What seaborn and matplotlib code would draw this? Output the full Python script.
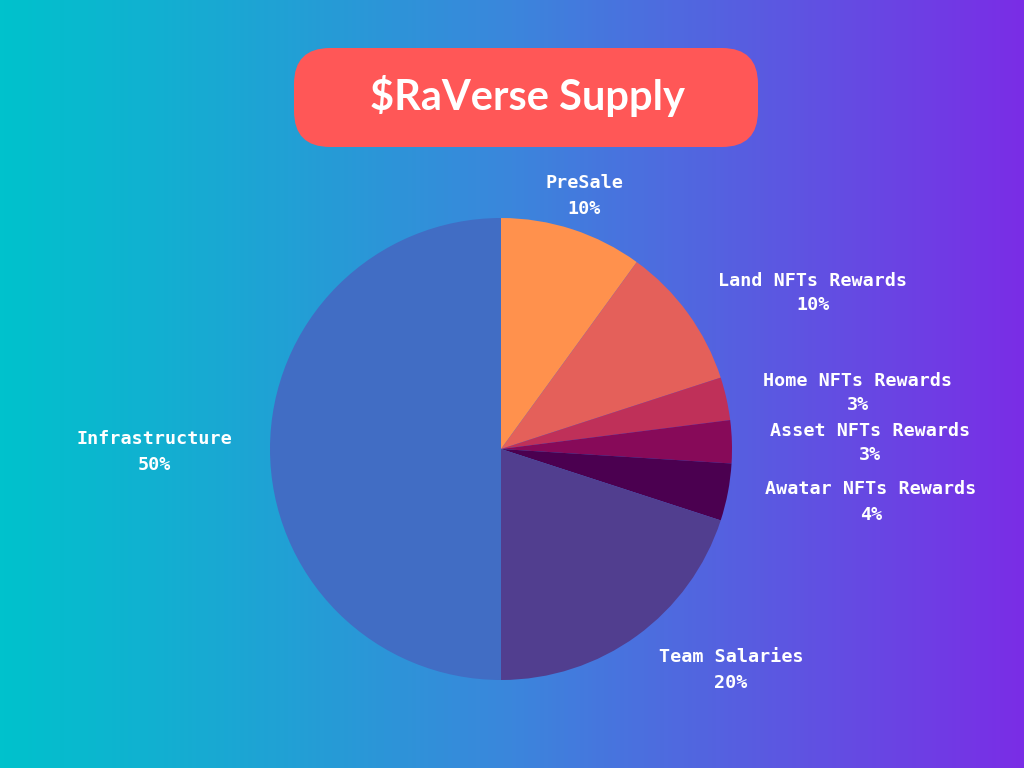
import numpy as np
import seaborn as sns
import matplotlib.pyplot as plt
from matplotlib.patches import FancyBboxPatch
from matplotlib.colors import LinearSegmentedColormap

# Datos
categorias = ["PreSale", "Land NFTs Rewards", "Home NFTs Rewards", "Asset NFTs Rewards",
              "Awatar NFTs Rewards", "Team Salaries", "Infrastructure"]
porcentajes = [10, 10, 3, 3, 4, 20, 50]
colores = ["#ff914d", "#e4605a", "#bf3059", "#870a59", "#4b0050", "#513e8f", "#416dc4"]
titulo = "$RaVerse Supply"

# posiciones de etiquetas (pixeles, origen arriba-izquierda)
pos_etiquetas = [(584, 196), (813, 293), (858, 393), (870, 443), (871, 502), (731, 670), (154, 452)]

sns.set_theme(style="white")
plt.rcParams["font.family"] = ["DejaVu Sans Mono", "DejaVu Sans"]

W, H = 1024, 768
fig = plt.figure(figsize=(10.24, 7.68), dpi=100)
ax = fig.add_axes([0, 0, 1, 1])
ax.set_xlim(0, W)
ax.set_ylim(0, H)
ax.set_aspect("equal")
ax.axis("off")

# fondo degradado
grad = LinearSegmentedColormap.from_list("fondo", ["#00c2cc", "#3b86dc", "#7a2de6"])
ax.imshow(np.linspace(0, 1, 512)[None, :], cmap=grad, extent=[0, W, 0, H], aspect="auto", zorder=0)

# caja del titulo
caja = FancyBboxPatch((294 + 36, H - 147 + 36), 464 - 72, 99 - 72,
                      boxstyle="round,pad=36", fc="#ff5757", ec="none", zorder=2)
ax.add_patch(caja)
ax.text(527, H - 96, titulo, ha="center", va="center", color="white", fontsize=30,
        fontweight="bold", family=["Lato", "DejaVu Sans"], zorder=3)

# pastel
etiquetas = [f"{c}\n{p}%" for c, p in zip(categorias, porcentajes)]
wedges, textos = ax.pie(porcentajes, colors=colores, startangle=90, counterclock=False,
                        center=(501, H - 449), radius=231, labels=etiquetas,
                        wedgeprops=dict(linewidth=0), frame=True,
                        textprops=dict(color="white", fontsize=13.2, fontweight="bold",
                                       ha="center", va="center", linespacing=1.5))
for t, (x, y) in zip(textos, pos_etiquetas):
    t.set_position((x, H - y))
    t.set_ha("center")
    t.set_va("center")

ax.set_xlim(0, W)
ax.set_ylim(0, H)
ax.axis("off")

fig.savefig("out.png", dpi=100)
plt.close()
